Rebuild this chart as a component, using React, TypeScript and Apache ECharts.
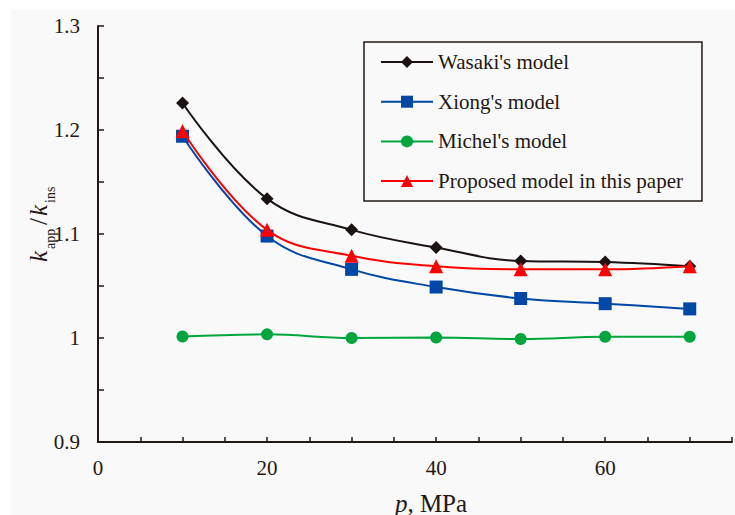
import React, { useEffect, useRef } from "react";
import * as echarts from "echarts";

const pressures = [10, 20, 30, 40, 50, 60, 70];
const seriesNames = ["Wasaki's model", "Xiong's model", "Michel's model", "Proposed model in this paper"];
const wasaki = [1.226, 1.134, 1.104, 1.087, 1.074, 1.073, 1.069];
const xiong = [1.194, 1.098, 1.066, 1.049, 1.038, 1.033, 1.028];
const michel = [1.0015, 1.0035, 1.0, 1.0005, 0.999, 1.0012, 1.0012];
const proposed = [1.199, 1.104, 1.079, 1.069, 1.066, 1.066, 1.069];
const seriesColors = ["#1a1311", "#0047a8", "#00a63c", "#ff0000"];
const seriesSymbols = ["diamond", "rect", "circle", "triangle"];
const symbolSizes = [13, 13, 12, 14];

const FONT = "Liberation Serif";
const INK = "#231815";

export default function App() {
  const ref = useRef<HTMLDivElement>(null);
  useEffect(() => {
    if (!ref.current) return;
    const chart = echarts.init(ref.current, undefined, { renderer: "svg" });
    const values = [wasaki, xiong, michel, proposed];
    const option: any = {
      animation: false,
      backgroundColor: "#ffffff",
      textStyle: { fontFamily: FONT },
      grid: { left: 98, top: 26, right: 0, bottom: 73, containLabel: false },
      xAxis: {
        type: "value",
        min: 0,
        max: 75,
        interval: 5,
        axisLine: { show: true, lineStyle: { color: INK, width: 2 } },
        axisTick: { show: true, inside: true, length: 5, lineStyle: { color: INK, width: 1.5 } },
        splitLine: { show: false },
        axisLabel: {
          margin: 15,
          color: INK,
          fontFamily: FONT,
          fontSize: 21,
          formatter: (v: number) => (Math.round(v) % 20 === 0 ? String(Math.round(v)) : ""),
        },
      },
      yAxis: {
        type: "value",
        min: 0.9,
        max: 1.3,
        interval: 0.05,
        axisLine: { show: true, lineStyle: { color: INK, width: 2 } },
        axisTick: { show: true, inside: true, length: 6, lineStyle: { color: INK, width: 1.5 } },
        splitLine: { show: false },
        axisLabel: {
          margin: 18,
          color: INK,
          fontFamily: FONT,
          fontSize: 21,
          formatter: (v: number) => {
            const r = Math.round(v * 100);
            return r % 10 === 0 ? String(r / 100) : "";
          },
        },
      },
      legend: {
        orient: "vertical",
        left: 364,
        top: 42,
        padding: [9.5, 19, 9.5, 16],
        itemGap: 18.7,
        itemWidth: 52,
        itemHeight: 15,
        borderColor: INK,
        borderWidth: 1.5,
        backgroundColor: "#f9f9f9",
        textStyle: { fontFamily: FONT, fontSize: 21, color: INK },
        data: seriesNames,
      },
      graphic: [
        {
          type: "rect",
          silent: true,
          z: -100,
          shape: { x: 11, y: 10, width: 724, height: 505 },
          style: { fill: "#f9f9f9" },
        },
        {
          type: "group",
          x: 45,
          y: 262,
          rotation: Math.PI / 2,
          children: [
            { type: "text", x: 0, y: -7, style: { text: "k", font: `italic 25px ${FONT}`, fill: INK, verticalAlign: "middle" } },
            { type: "text", x: 13, y: 5, style: { text: "app", font: `14px ${FONT}`, fill: INK, verticalAlign: "middle" } },
            { type: "text", x: 37, y: -7, style: { text: "/", font: `25px ${FONT}`, fill: INK, verticalAlign: "middle" } },
            { type: "text", x: 46, y: -7, style: { text: "k", font: `italic 25px ${FONT}`, fill: INK, verticalAlign: "middle" } },
            { type: "text", x: 59, y: 5, style: { text: "ins", font: `14px ${FONT}`, fill: INK, verticalAlign: "middle" } },
          ],
        },
        {
          type: "text",
          x: 431,
          y: 503,
          style: {
            text: "{i|p}{n|, MPa}",
            align: "center",
            verticalAlign: "middle",
            rich: {
              i: { font: `italic 25px ${FONT}`, fill: INK },
              n: { font: `25px ${FONT}`, fill: INK },
            },
          },
        },
      ],
      series: seriesNames.map((name, i) => ({
        name,
        type: "line",
        smooth: 0.4,
        data: pressures.map((p, j) => [p, values[i][j]]),
        symbol: seriesSymbols[i],
        symbolSize: symbolSizes[i],
        itemStyle: { color: seriesColors[i] },
        lineStyle: { color: seriesColors[i], width: 2 },
        z: 2 + i,
      })),
    };
    chart.setOption(option);
    return () => chart.dispose();
  }, []);
  return (
    <div
      ref={ref}
      style={{ position: "fixed", left: 0, top: 0, width: 735, height: 515 }}
    />
  );
}
